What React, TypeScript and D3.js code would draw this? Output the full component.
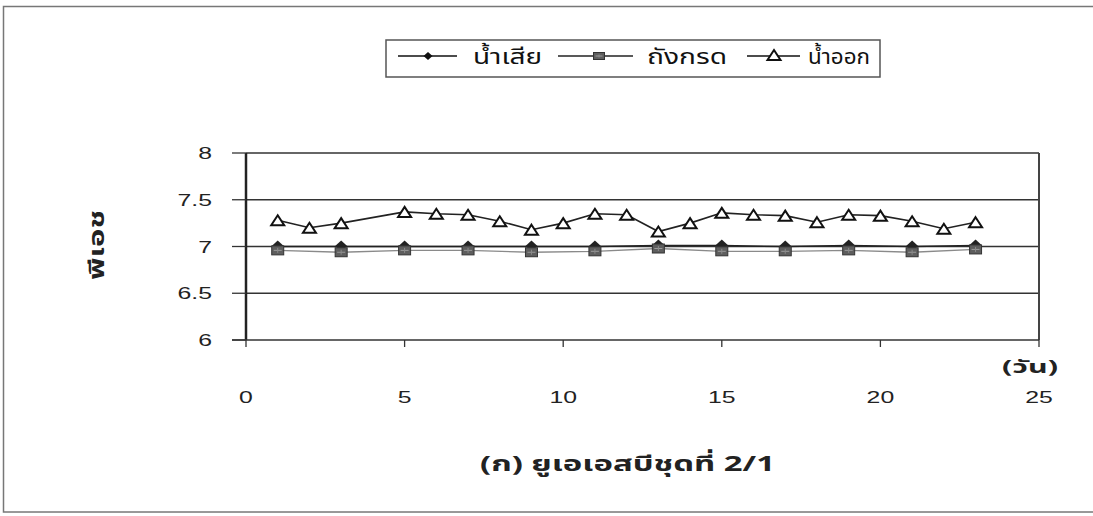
import React from "react";
import * as d3 from "d3";

// pH readings by day for the UASB run 2/1
const sampleDays = [1, 3, 5, 7, 9, 11, 13, 15, 17, 19, 21, 23];
const wastewater = [7.0, 7.0, 7.0, 7.0, 7.0, 7.0, 7.01, 7.01, 7.0, 7.01, 7.0, 7.01];
const acidTank = [6.98, 6.96, 6.98, 6.98, 6.96, 6.97, 7.0, 6.97, 6.97, 6.98, 6.96, 6.99];
const effluentDays = [1, 2, 3, 5, 6, 7, 8, 9, 10, 11, 12, 13, 14, 15, 16, 17, 18, 19, 20, 21, 22, 23];
const effluent = [7.28, 7.2, 7.25, 7.37, 7.35, 7.34, 7.27, 7.18, 7.25, 7.35, 7.34, 7.16, 7.25, 7.36, 7.34, 7.33, 7.26, 7.34, 7.33, 7.27, 7.19, 7.26];

const xTicks = [0, 5, 10, 15, 20, 25];
const yTicks = [6, 6.5, 7, 7.5, 8];
const seriesNames = ["น้ำเสีย", "ถังกรด", "น้ำออก"];

const W = 1093;
const H = 516;
const plot = { left: 246, right: 1039, top: 153, bottom: 340 };
const thaiFont = "'Noto Sans Thai', 'Noto Sans', 'DejaVu Sans', sans-serif";
const numFont = "'Liberation Sans', Arial, sans-serif";
const stretch = 1.55; // wide lettering of the printed chart

const x = d3.scaleLinear().domain([0, 25]).range([plot.left, plot.right]);
const y = d3.scaleLinear().domain([6, 8]).range([plot.bottom, plot.top]);

type Pt = [number, number];
const lineGen = d3.line<Pt>().x((d) => x(d[0])).y((d) => y(d[1]));

const diamond = (cx: number, cy: number, w: number, h: number) =>
  `M${cx},${cy - h / 2}L${cx + w / 2},${cy}L${cx},${cy + h / 2}L${cx - w / 2},${cy}Z`;
const triangle = (cx: number, cy: number, w: number, h: number) =>
  `M${cx},${cy - h / 2}L${cx + w / 2},${cy + h / 2}L${cx - w / 2},${cy + h / 2}Z`;

function Square({ cx, cy, w, h }: { cx: number; cy: number; w: number; h: number }) {
  return (
    <g>
      <rect x={cx - w / 2} y={cy - h / 2} width={w} height={h} fill="#5e5e5e" stroke="#333" strokeWidth={1} />
      <line x1={cx - w / 2 + 2} y1={cy} x2={cx + w / 2 - 2} y2={cy} stroke="#9a9a9a" strokeWidth={1} />
      <line x1={cx} y1={cy - h / 2 + 2} x2={cx} y2={cy + h / 2 - 2} stroke="#8a8a8a" strokeWidth={1} />
    </g>
  );
}

function WideText({ x: tx, y: ty, anchor, size, bold, font, children }: {
  x: number; y: number; anchor: "start" | "middle" | "end"; size: number; bold?: boolean; font: string; children: React.ReactNode;
}) {
  return (
    <text
      transform={`translate(${tx},${ty}) scale(${stretch},1)`}
      textAnchor={anchor}
      fontFamily={font}
      fontSize={size}
      fontWeight={bold ? "bold" : "normal"}
      fill="#222"
    >
      {children}
    </text>
  );
}

export default function App() {
  const s1: Pt[] = sampleDays.map((d, i) => [d, wastewater[i]]);
  const s2: Pt[] = sampleDays.map((d, i) => [d, acidTank[i]]);
  const s3: Pt[] = effluentDays.map((d, i) => [d, effluent[i]]);

  const legendY = 56;
  return (
    <svg width={W} height={H} style={{ position: "absolute", left: 0, top: 0, background: "#fff" }}>
      {/* outer frame */}
      <rect x={3.5} y={6.5} width={1100} height={505.5} fill="none" stroke="#777" strokeWidth={1.5} />

      {/* legend */}
      <rect x={386} y={40} width={494} height={37} fill="#fff" stroke="#555" strokeWidth={1.5} />
      <line x1={398} x2={457} y1={legendY} y2={legendY} stroke="#111" strokeWidth={1.5} />
      <path d={diamond(428, legendY, 9, 8)} fill="#111" />
      <text x={473} y={legendY + 8} fontFamily={thaiFont} fontSize={21} fill="#111" textLength={69} lengthAdjust="spacingAndGlyphs">{seriesNames[0]}</text>
      <line x1={558} x2={633} y1={legendY} y2={legendY} stroke="#222" strokeWidth={1.5} />
      <Square cx={599} cy={legendY} w={11} h={7} />
      <text x={647} y={legendY + 8} fontFamily={thaiFont} fontSize={21} fill="#111" textLength={80} lengthAdjust="spacingAndGlyphs">{seriesNames[1]}</text>
      <line x1={747} x2={800} y1={legendY} y2={legendY} stroke="#111" strokeWidth={1.5} />
      <path d={triangle(774, legendY - 1, 13, 10)} fill="#fff" stroke="#111" strokeWidth={2} />
      <text x={808} y={legendY + 8} fontFamily={thaiFont} fontSize={21} fill="#111" textLength={62} lengthAdjust="spacingAndGlyphs">{seriesNames[2]}</text>

      {/* gridlines and plot border */}
      {yTicks.filter((t) => t > 6).map((t) => (
        <line key={t} x1={plot.left} x2={plot.right} y1={y(t)} y2={y(t)} stroke="#333" strokeWidth={1.3} />
      ))}
      <line x1={plot.right} x2={plot.right} y1={plot.top} y2={plot.bottom} stroke="#444" strokeWidth={2} />

      {/* y axis */}
      <line x1={plot.left} x2={plot.left} y1={plot.top} y2={plot.bottom} stroke="#222" strokeWidth={2.5} />
      {yTicks.map((t) => (
        <g key={t}>
          <line x1={plot.left - 14} x2={plot.left} y1={y(t)} y2={y(t)} stroke="#333" strokeWidth={1.3} />
          <WideText x={212} y={y(t) + 6} anchor="end" size={16} font={numFont}>{t}</WideText>
        </g>
      ))}

      {/* x axis */}
      <line x1={plot.left - 14} x2={plot.right} y1={plot.bottom} y2={plot.bottom} stroke="#333" strokeWidth={1.5} />
      {xTicks.map((t) => (
        <g key={t}>
          <line x1={x(t)} x2={x(t)} y1={plot.bottom} y2={plot.bottom + 7} stroke="#333" strokeWidth={1.3} />
          <WideText x={x(t)} y={403} anchor="middle" size={16} font={numFont}>{t}</WideText>
        </g>
      ))}
      <text x={1030} y={373} textAnchor="middle" fontFamily={thaiFont} fontSize={18} fontWeight="bold" fill="#222" textLength={56} lengthAdjust="spacingAndGlyphs">(วัน)</text>

      {/* y label */}
      <text transform={`translate(104,245) rotate(-90)`} textAnchor="middle" fontFamily={thaiFont} fontSize={21} fontWeight="bold" fill="#222" textLength={70} lengthAdjust="spacingAndGlyphs">พีเอช</text>

      {/* series: wastewater */}
      <path d={lineGen(s1) || ""} fill="none" stroke="#222" strokeWidth={1.5} />
      {s1.map((p, i) => <path key={"d" + i} d={diamond(x(p[0]), y(p[1]) - 0.5, 12, 11)} fill="#222" />)}
      {/* series: acid tank */}
      <path d={lineGen(s2) || ""} fill="none" stroke="#8a8a8a" strokeWidth={1.3} transform="translate(0,2)" />
      {s2.map((p, i) => <Square key={"s" + i} cx={x(p[0])} cy={y(p[1]) + 2} w={12} h={9} />)}

      {/* series: effluent */}
      <path d={lineGen(s3) || ""} fill="none" stroke="#222" strokeWidth={1.6} />
      {s3.map((p, i) => (
        <path key={"t" + i} d={triangle(x(p[0]), y(p[1]), 13, 10)} fill="#fff" stroke="#111" strokeWidth={2} />
      ))}

      {/* caption */}
      <text x={480} y={471} fontFamily={thaiFont} fontSize={21} fontWeight="bold" fill="#222" textLength={295} lengthAdjust="spacingAndGlyphs">(ก) ยูเอเอสบีชุดที่ 2/1</text>
    </svg>
  );
}
